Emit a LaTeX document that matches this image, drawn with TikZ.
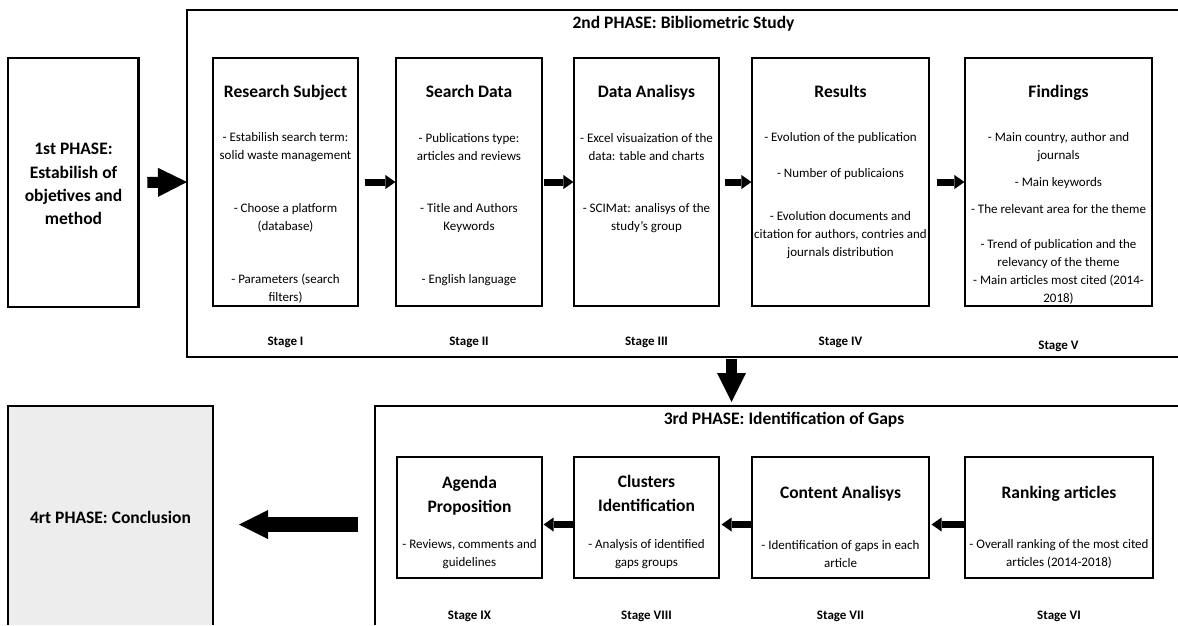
\documentclass[tikz,border=0pt]{standalone}
\usepackage{fontspec}
\setmainfont{Carlito}
\usetikzlibrary{arrows.meta}
\definecolor{concl}{HTML}{EDEDED}
\tikzset{
  ibox/.style={draw=black, line width=1.1pt, rectangle, inner sep=0pt},
  phasebox/.style={draw=black, line width=2.6pt, rectangle, inner sep=0pt},
  frameline/.style={draw=black, line width=2.7pt},
  ttl/.style={font=\fontsize{17.5}{24}\selectfont\bfseries, align=center, inner sep=0pt},
  body/.style={font=\fontsize{13}{18}\selectfont, align=center, inner sep=0pt},
  stagelbl/.style={font=\fontsize{13}{15}\selectfont\bfseries, inner sep=0pt, anchor=base},
  bigarrow/.style={line width=11pt, -{Triangle[width=29pt,length=29pt,line width=0pt]}},
  widearrow/.style={line width=15pt, -{Triangle[width=29pt,length=29pt,line width=0pt]}},
  smallarrow/.style={line width=7pt, -{Triangle[width=14pt,length=10pt,line width=0pt]}}
}
\begin{document}
\begin{tikzpicture}[x=1pt,y=-1pt]
\useasboundingbox (0,0) rectangle (1178,625);

% ---------- 1st phase ----------
\node[phasebox, minimum width=130.5pt, minimum height=249pt] (p1) at (73.25,182.5) {};
\node[ttl, font=\fontsize{17.5}{23.3}\selectfont\bfseries] (p1t) at (73.5,184) {1st PHASE:\\Estabilish of\\objetives and\\method};

% ---------- 2nd phase frame (open to the right) ----------
\draw[frameline] (1178,10) -- (187,10) -- (187,357) -- (1178,357);
\coordinate (f2w) at (187,182);
\coordinate (f2s) at (731.5,357);
\node[ttl, anchor=base] (t2) at (683.5,28) {2nd PHASE: Bibliometric Study};

% Stage boxes, top row
\node[ibox, minimum width=145pt, minimum height=248pt] (rs) at (285.5,182) {};
\node[ibox, minimum width=146pt, minimum height=248pt] (sd) at (469,182) {};
\node[ibox, minimum width=145pt, minimum height=248pt] (da) at (646.5,182) {};
\node[ibox, minimum width=177pt, minimum height=248pt] (re) at (840.5,182) {};
\node[ibox, minimum width=187pt, minimum height=248pt] (fi) at (1058.5,182) {};

\node[ttl, anchor=base] (rst) at (285.5,97.5) {Research Subject};
\node[body] (rs1) at (285.5,147) {- Estabilish search term:\\solid waste management};
\node[body] (rs2) at (285.5,218) {- Choose a platform\\(database)};
\node[body] (rs3) at (285.5,289) {- Parameters (search\\filters)};

\node[ttl, anchor=base] (sdt) at (469,97.5) {Search Data};
\node[body] (sd1) at (469,147) {- Publications type:\\articles and reviews};
\node[body] (sd2) at (469,218) {- Title and Authors\\Keywords};
\node[body] (sd3) at (469,280) {- English language};

\node[ttl, anchor=base] (dat) at (646.5,97.5) {Data Analisys};
\node[body] (da1) at (646.5,147) {- Excel visuaization of the\\data: table and charts};
\node[body] (da2) at (646.5,218) {- SCIMat: analisys of the\\study's group};

\node[ttl, anchor=base] (ret) at (840.5,97.5) {Results};
\node[body] (re1) at (840.5,138) {- Evolution of the publication};
\node[body] (re2) at (840.5,174) {- Number of publicaions};
\node[body] (re3) at (840.5,235) {- Evolution documents and\\citation for authors, contries and\\journals distribution};

\node[ttl, anchor=base] (fit) at (1058.5,97.5) {Findings};
\node[body] (fi1) at (1058.5,147) {- Main country, author and\\journals};
\node[body] (fi2) at (1058.5,183) {- Main keywords};
\node[body] (fi3) at (1058.5,209) {- The relevant area for the theme};
\node[body] (fi4) at (1058.5,271.5) {- Trend of publication and the\\relevancy of the theme\\- Main articles most cited (2014-\\2018)};

\node[stagelbl] (s1) at (285.5,345) {Stage I};
\node[stagelbl] (s2) at (469,345) {Stage II};
\node[stagelbl] (s3) at (646.5,345) {Stage III};
\node[stagelbl] (s4) at (840.5,345) {Stage IV};
\node[stagelbl] (s5) at (1058.5,349) {Stage V};

% ---------- 3rd phase frame (open to right and bottom) ----------
\draw[frameline] (1178,406) -- (375,406) -- (375,625);
\coordinate (f3n) at (731.5,406);
\coordinate (f3w) at (375,524.5);
\node[ttl, anchor=base] (t3) at (784,424) {3rd PHASE: Identification of Gaps};

\node[ibox, minimum width=145pt, minimum height=121pt] (ag) at (469.5,517.5) {};
\node[ibox, minimum width=145pt, minimum height=121pt] (cl) at (646.5,517.5) {};
\node[ibox, minimum width=177pt, minimum height=121pt] (ca) at (840.5,517.5) {};
\node[ibox, minimum width=188pt, minimum height=121pt] (rk) at (1059,517.5) {};

\node[ttl] (agt) at (469.5,495.5) {Agenda\\Proposition};
\node[body] (ag1) at (469.5,554) {- Reviews, comments and\\guidelines};
\node[ttl] (clt) at (646.5,493.5) {Clusters\\Identification};
\node[body] (cl1) at (646.5,554) {- Analysis of identified\\gaps groups};
\node[ttl, anchor=base] (cat) at (840.5,498.5) {Content Analisys};
\node[body] (ca1) at (840.5,554) {- Identification of gaps in each\\article};
\node[ttl, anchor=base] (rkt) at (1059,498.5) {Ranking articles};
\node[body] (rk1) at (1059,554) {- Overall ranking of the most cited\\articles (2014-2018)};

\node[stagelbl] (s9) at (469.5,619) {Stage IX};
\node[stagelbl] (s8) at (646.5,619) {Stage VIII};
\node[stagelbl] (s7) at (840.5,619) {Stage VII};
\node[stagelbl] (s6) at (1059,619) {Stage VI};

% ---------- 4th phase (open at bottom) ----------
\fill[concl] (8,406) rectangle (213,625);
\draw[line width=2.2pt] (8,625) -- (8,406) -- (213,406) -- (213,625);
\coordinate (p4e) at (213,524.5);
\node[ttl, anchor=base] (p4t) at (110.5,523) {4rt PHASE: Conclusion};

% ---------- connectors ----------
\draw[bigarrow, shorten <=7.5pt] (p1.east) -- (f2w);
\draw[smallarrow, shorten <=6pt] (rs.east) -- (sd.west);
\draw[smallarrow, shorten <=1.5pt] (sd.east) -- (da.west);
\draw[smallarrow, shorten <=5.5pt] (da.east) -- (re.west);
\draw[smallarrow, shorten <=7pt] (re.east) -- (fi.west);

\draw[bigarrow, shorten <=2pt, shorten >=4pt] (f2s) -- (f3n);

\draw[smallarrow, shorten >=2pt] ([yshift=-7pt]rk.west) -- ([yshift=-7pt]ca.east);
\draw[smallarrow, shorten >=2pt] ([yshift=-7pt]ca.west) -- ([yshift=-7pt]cl.east);
\draw[smallarrow, shorten >=1pt] ([yshift=-7pt]cl.west) -- ([yshift=-7pt]ag.east);

\draw[widearrow, shorten <=17pt, shorten >=26pt] (f3w) -- (p4e);
\end{tikzpicture}
\end{document}
